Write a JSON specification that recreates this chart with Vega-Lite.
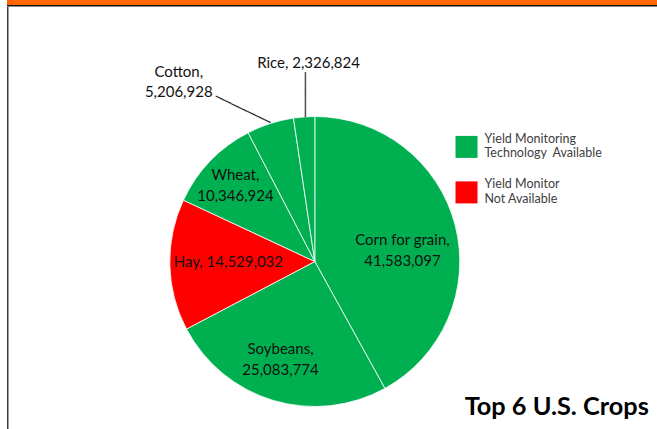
{
  "$schema": "https://vega.github.io/schema/vega-lite/v6.json",
  "background": "white",
  "padding": {"left": 7, "top": 0, "right": 0, "bottom": 0},
  "spacing": 0,
  "config": {"view": {"stroke": null}, "font": "Lato", "concat": {"spacing": 0}},
  "vconcat": [
    {
      "width": 650,
      "height": 5,
      "view": {"fill": "#FF6600", "stroke": null},
      "data": {"values": []},
      "mark": "point"
    },
    {
      "width": 650,
      "height": 1.5,
      "view": {"fill": "#111111", "stroke": null},
      "data": {"values": []},
      "mark": "point"
    },
    {
      "spacing": 0,
      "hconcat": [
        {
          "width": 1.5,
          "height": 422.5,
          "view": {"fill": "#3a3a3a", "stroke": null},
          "data": {"values": []},
          "mark": "point"
        },
        {
          "width": 611.6,
          "height": 509,
          "view": {"stroke": null},
          "title": {
            "text": "Top 6 U.S. Crops",
            "orient": "bottom",
            "anchor": "end",
            "frame": "group",
            "baseline": "alphabetic",
            "offset": -101.5,
            "dx": 28.2,
            "font": "Lato",
            "fontSize": 25.3,
            "fontWeight": "bold",
            "color": "#000000"
          },
          "data": {
            "values": [
              {"crop": "Corn for grain", "value": 41583097, "status": "Yield Monitoring Technology Available"},
              {"crop": "Soybeans", "value": 25083774, "status": "Yield Monitoring Technology Available"},
              {"crop": "Hay", "value": 14529032, "status": "Yield Monitor Not Available"},
              {"crop": "Wheat", "value": 10346924, "status": "Yield Monitoring Technology Available"},
              {"crop": "Cotton", "value": 5206928, "status": "Yield Monitoring Technology Available"},
              {"crop": "Rice", "value": 2326824, "status": "Yield Monitoring Technology Available"}
            ]
          },
          "transform": [
            {"stack": "value", "groupby": [], "sort": [{"field": "value", "order": "descending"}], "as": ["v0", "v1"]},
            {"calculate": "(datum.v0 + datum.v1) / 2", "as": "mid"},
            {"calculate": "datum.crop + ',|' + format(datum.value, ',')", "as": "label2"},
            {"calculate": "datum.crop + ', ' + format(datum.value, ',')", "as": "label1"}
          ],
          "layer": [
            {
              "mark": {"type": "arc", "radius": 145, "stroke": "#ffffff", "strokeWidth": 0.8},
              "encoding": {
                "theta": {"field": "v1", "type": "quantitative", "scale": {"zero": true}},
                "theta2": {"field": "v0"},
                "color": {
                  "field": "status",
                  "type": "nominal",
                  "scale": {
                    "domain": ["Yield Monitoring Technology Available", "Yield Monitor Not Available"],
                    "range": ["#00B050", "#FF0000"]
                  },
                  "legend": {
                    "title": null,
                    "orient": "none",
                    "legendX": 448.5,
                    "legendY": 135.9,
                    "padding": 0,
                    "symbolType": "square",
                    "symbolSize": 484,
                    "symbolStrokeWidth": 0,
                    "labelFont": "Lato",
                    "labelFontSize": 12.5,
                    "labelColor": "#404040",
                    "labelOffset": 7,
                    "labelLimit": 300,
                    "labelBaseline": "line-bottom",
                    "rowPadding": 18.5,
                    "labelExpr": "datum.label === 'Yield Monitor Not Available' ? ['Yield Monitor', 'Not Available'] : ['Yield Monitoring', 'Technology \u00a0Available']"
                  }
                }
              }
            },
            {
              "transform": [{"filter": "datum.crop === 'Corn for grain'"}],
              "mark": {"type": "text", "radius": 90.5, "dy": 1.35, "font": "Lato", "fontSize": 15, "color": "#111111", "lineBreak": "|", "lineHeight": 20.5, "align": "center", "baseline": "middle"},
              "encoding": {"theta": {"field": "mid", "type": "quantitative", "stack": null}, "text": {"field": "label2", "type": "nominal"}}
            },
            {
              "transform": [{"filter": "datum.crop === 'Soybeans'"}],
              "mark": {"type": "text", "radius": 102.5, "dx": -4.9, "dy": -10.25, "font": "Lato", "fontSize": 15, "color": "#111111", "lineBreak": "|", "lineHeight": 20.5, "align": "center", "baseline": "middle"},
              "encoding": {"theta": {"field": "mid", "type": "quantitative", "stack": null}, "text": {"field": "label2", "type": "nominal"}}
            },
            {
              "transform": [{"filter": "datum.crop === 'Hay'"}],
              "mark": {"type": "text", "radius": 86.5, "dy": -1.3, "font": "Lato", "fontSize": 15, "color": "#111111", "align": "center", "baseline": "middle"},
              "encoding": {"theta": {"field": "mid", "type": "quantitative", "stack": null}, "text": {"field": "label1", "type": "nominal"}}
            },
            {
              "transform": [{"filter": "datum.crop === 'Wheat'"}],
              "mark": {"type": "text", "radius": 110, "dy": -10.25, "font": "Lato", "fontSize": 15, "color": "#111111", "lineBreak": "|", "lineHeight": 20.5, "align": "center", "baseline": "middle"},
              "encoding": {"theta": {"field": "mid", "type": "quantitative", "stack": null}, "text": {"field": "label2", "type": "nominal"}}
            },
            {
              "transform": [{"filter": "datum.crop === 'Cotton'"}],
              "mark": {"type": "text", "radius": 188, "dx": -78.2, "dy": -10.65, "font": "Lato", "fontSize": 15, "color": "#111111", "lineBreak": "|", "lineHeight": 20.5, "align": "center", "baseline": "middle"},
              "encoding": {"theta": {"field": "mid", "type": "quantitative", "stack": null}, "text": {"field": "label2", "type": "nominal"}}
            },
            {
              "transform": [{"filter": "datum.crop === 'Rice'"}],
              "mark": {"type": "text", "radius": 199, "dx": 8.4, "font": "Lato", "fontSize": 15, "color": "#111111", "align": "center", "baseline": "middle"},
              "encoding": {"theta": {"field": "mid", "type": "quantitative", "stack": null}, "text": {"field": "label1", "type": "nominal"}}
            },
            {
              "transform": [{"filter": "datum.crop === 'Cotton'"}],
              "mark": {"type": "text", "radius": 145, "angle": 25.8, "font": "DejaVu Sans Mono", "fontSize": 14.5, "color": "#333333", "align": "right", "baseline": "middle"},
              "encoding": {"theta": {"field": "mid", "type": "quantitative", "stack": null}, "text": {"value": "───────"}}
            },
            {
              "transform": [{"filter": "datum.crop === 'Rice'"}],
              "mark": {"type": "text", "radius": 145, "angle": 90, "font": "DejaVu Sans Mono", "fontSize": 14.85, "color": "#333333", "align": "right", "baseline": "middle"},
              "encoding": {"theta": {"field": "mid", "type": "quantitative", "stack": null}, "text": {"value": "─────"}}
            }
          ]
        }
      ]
    }
  ]
}
